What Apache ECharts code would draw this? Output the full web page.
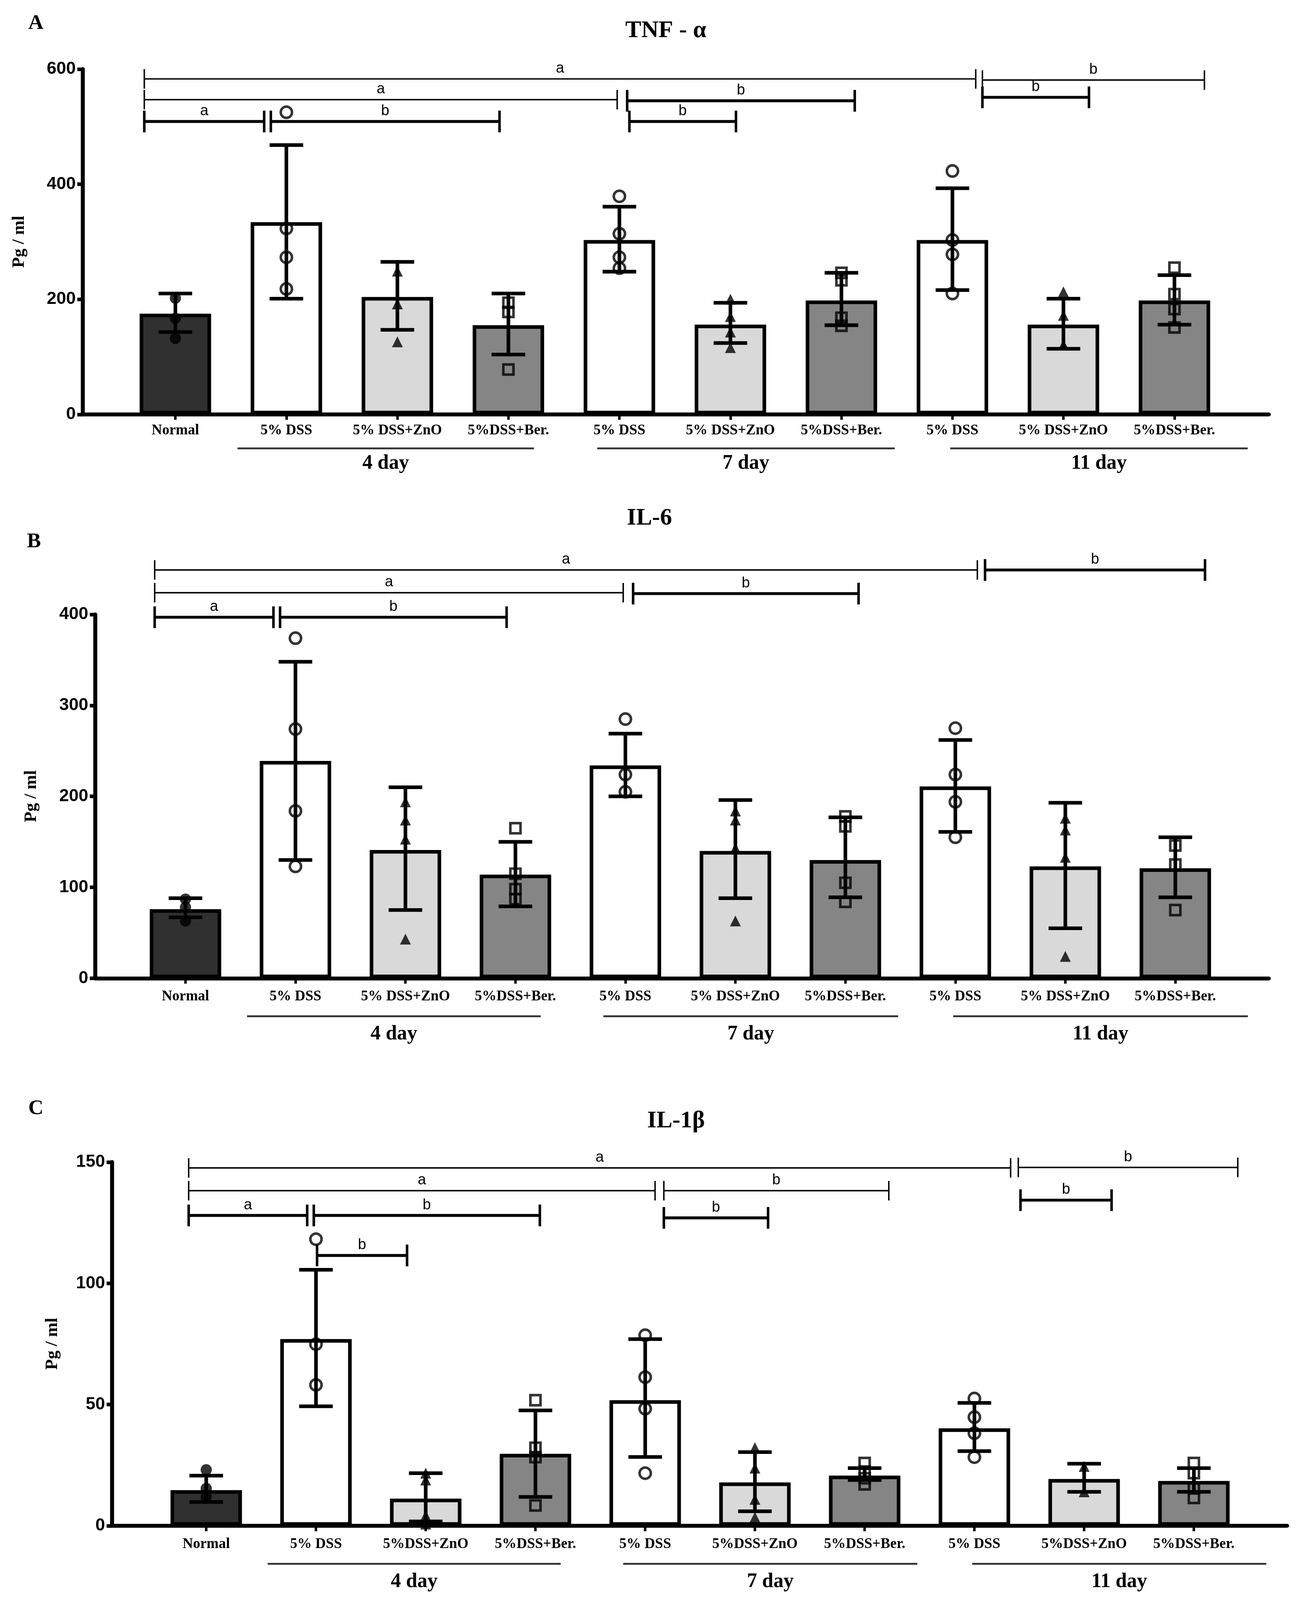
<!DOCTYPE html>
<html>
<head>
<meta charset="utf-8">
<script src="https://cdn.jsdelivr.net/npm/echarts@6/dist/echarts.min.js"></script>
<style>
html,body{margin:0;padding:0;background:#ffffff;overflow:hidden;}
#chart{width:100vw;height:100vh;}
</style>
</head>
<body>
<div id="chart"></div>
<script>
// ---------------- DATA ----------------
const groupKinds = [0, 1, 2, 3, 1, 2, 3, 1, 2, 3];
const categoriesAB = ['Normal', '5% DSS', '5% DSS+ZnO', '5%DSS+Ber.', '5% DSS', '5% DSS+ZnO', '5%DSS+Ber.', '5% DSS', '5% DSS+ZnO', '5%DSS+Ber.'];
const categoriesC = ['Normal', '5% DSS', '5%DSS+ZnO', '5%DSS+Ber.', '5% DSS', '5%DSS+ZnO', '5%DSS+Ber.', '5% DSS', '5%DSS+ZnO', '5%DSS+Ber.'];
const dayGroups = ['4 day', '7 day', '11 day'];
const dayGroupSpans = [[0.56, 3.23], [3.80, 6.48], [6.98, 9.66]];

const panelLetters = ['A', 'B', 'C'];
const panelTitles = ['TNF - α', 'IL-6', 'IL-1β'];
const yAxisName = 'Pg / ml';

// TNF-alpha
const tnfTicks = [0, 200, 400, 600];
const tnfMeans = [175, 334, 204, 155, 303, 156, 198, 303, 156, 198];
const tnfLow   = [143, 201, 147, 104, 248, 124, 155, 216, 114, 156];
const tnfHigh  = [210, 468, 265, 210, 361, 194, 246, 393, 201, 242];
const tnfPoints = [
  [202, 167, 132],
  [525, 323, 273, 218],
  [249, 192, 126],
  [194, 178, 78],
  [379, 314, 273, 254],
  [200, 170, 143, 116],
  [246, 233, 168, 154],
  [423, 303, 278, 210],
  [213, 172, 121],
  [255, 209, 183, 151]
];
// [from, to, level value, letter]
const tnfBrackets = [
  [-0.28, 7.21, 583, 'a'],
  [7.27, 9.27, 581, 'b'],
  [-0.28, 3.98, 547, 'a'],
  [4.07, 6.12, 545, 'b'],
  [7.27, 8.23, 551, 'b'],
  [-0.28, 0.80, 509, 'a'],
  [0.86, 2.92, 509, 'b'],
  [4.09, 5.05, 509, 'b']
];

// IL-6
const il6Ticks = [0, 100, 200, 300, 400];
const il6Means = [76, 239, 141, 114, 234, 140, 130, 211, 123, 121];
const il6Low   = [67, 130, 75, 79, 200, 88, 89, 161, 55, 89];
const il6High  = [88, 348, 210, 150, 269, 196, 177, 262, 193, 155];
const il6Points = [
  [87, 78, 63],
  [374, 274, 184, 123],
  [194, 174, 153, 43],
  [165, 115, 98, 87],
  [285, 224, 205],
  [184, 174, 143, 63],
  [178, 167, 105, 84],
  [275, 224, 194, 155],
  [176, 163, 133, 24],
  [146, 125, 75]
];
const il6Brackets = [
  [-0.28, 7.20, 449, 'a'],
  [7.27, 9.27, 449, 'b'],
  [-0.28, 3.98, 424, 'a'],
  [4.07, 6.12, 423, 'b'],
  [-0.28, 0.80, 397, 'a'],
  [0.86, 2.92, 397, 'b']
];

// IL-1beta
const il1bTicks = [0, 50, 100, 150];
const il1bMeans = [14.7, 77, 11.2, 29.7, 51.8, 17.9, 20.7, 40.2, 19.3, 18.5];
const il1bLow   = [9.8, 49.3, 1.8, 11.9, 28.4, 6.0, 18.9, 30.8, 14.0, 14.0];
const il1bHigh  = [20.7, 105.6, 21.7, 47.6, 77, 30.4, 23.8, 50.7, 25.6, 23.8];
const il1bPoints = [
  [23.1, 15.4, 11.9],
  [118.2, 74.9, 58.1],
  [21.7, 18.9, 4.2, 0.7],
  [51.8, 32.2, 28.3, 8.4],
  [78.6, 61.3, 48.3, 21.7],
  [32.2, 23.8, 10.9, 3.5],
  [25.9, 22.4, 19.6, 17.1],
  [52.5, 44.8, 38.2, 28.3],
  [24.5, 14.0],
  [25.9, 21.7, 15.4, 11.5]
];
const il1bBrackets = [
  [-0.16, 7.33, 147.6, 'a'],
  [7.40, 9.40, 147.8, 'b'],
  [-0.16, 4.09, 138.2, 'a'],
  [4.17, 6.22, 138.2, 'b'],
  [7.42, 8.25, 134.3, 'b'],
  [-0.16, 0.92, 128, 'a'],
  [0.98, 3.04, 128, 'b'],
  [4.17, 5.12, 127, 'b'],
  [1.01, 1.83, 111.5, 'b']
];

// ---------------- STYLE / LAYOUT ----------------
// Layout is designed on a 3334 x 4421 canvas and scaled to the actual viewport.
const VW = window.innerWidth || 3334;
const VH = window.innerHeight || 4421;
const sx = VW / 3334, sy = VH / 4421, s = Math.min(sx, sy);
const X = v => v * sx, Y = v => v * sy, S = v => v * s;

const SERIF = "'Liberation Serif', 'Times New Roman', serif";
const SANS = "'Liberation Sans', Arial, sans-serif";
const barColors = ['#303030', '#ffffff', '#d9d9d9', '#858585'];
const pointSymbols = ['circle', 'circle', 'triangle', 'rect'];
const pointFilled = [true, false, true, false];
const pointSizes = [31, 31, 30, 28];

const panels = [
  { data: { ticks: tnfTicks, means: tnfMeans, low: tnfLow, high: tnfHigh, points: tnfPoints, brackets: tnfBrackets, cats: categoriesAB },
    thin: [0, 1, 2],
    grid: { left: 212, top: 191, width: 3037, height: 954 }, xMin: -0.834, xMax: 9.85,
    labelMargin: 25, groupLineOff: 94, groupLabelOff: 136,
    letterPos: [92, 65], titlePos: [1705, 86], yNamePos: [50, 668] },
  { data: { ticks: il6Ticks, means: il6Means, low: il6Low, high: il6High, points: il6Points, brackets: il6Brackets, cats: categoriesAB },
    thin: [0, 2],
    grid: { left: 244, top: 1698, width: 3005, height: 1005 }, xMin: -0.82, xMax: 9.85,
    labelMargin: 31, groupLineOff: 105, groupLabelOff: 155,
    letterPos: [87, 1497], titlePos: [1663, 1432], yNamePos: [81, 2200] },
  { data: { ticks: il1bTicks, means: il1bMeans, low: il1bLow, high: il1bHigh, points: il1bPoints, brackets: il1bBrackets, cats: categoriesC },
    thin: [0, 1, 2, 3],
    grid: { left: 287, top: 3211, width: 3009, height: 1005 }, xMin: -0.858, xMax: 9.85,
    labelMargin: 31, groupLineOff: 105, groupLabelOff: 155,
    letterPos: [92, 3063], titlePos: [1731, 3098], yNamePos: [135, 3713] }
];

const catIndex = groupKinds.map((k, i) => i);

const grids = [], xAxes = [], yAxes = [], series = [], graphics = [];

panels.forEach((p, pi) => {
  const d = p.data;
  const yMax = d.ticks[d.ticks.length - 1];
  const yInterval = d.ticks[1] - d.ticks[0];
  grids.push({ containLabel: false, left: X(p.grid.left), top: Y(p.grid.top), width: X(p.grid.width), height: Y(p.grid.height) });

  xAxes.push({
    gridIndex: pi, type: 'value', min: p.xMin, max: p.xMax,
    axisLine: { show: true, onZero: false, lineStyle: { color: '#000', width: S(11) } },
    axisTick: { show: true, customValues: catIndex, length: Y(15), inside: false, lineStyle: { color: '#000', width: S(7) } },
    axisLabel: { show: true, customValues: catIndex, margin: Y(p.labelMargin),
      formatter: v => d.cats[Math.round(v)] || '',
      color: '#000', fontFamily: SERIF, fontWeight: 'bold', fontSize: S(40) },
    splitLine: { show: false }
  });
  yAxes.push({
    gridIndex: pi, type: 'value', min: 0, max: yMax, interval: yInterval,
    axisLine: { show: true, onZero: false, lineStyle: { color: '#000', width: S(11) } },
    axisTick: { show: true, length: X(14), inside: false, lineStyle: { color: '#000', width: S(10) } },
    axisLabel: { show: true, margin: X(18), color: '#000', fontFamily: SANS, fontWeight: 'bold', fontSize: S(48) },
    splitLine: { show: false }
  });

  // bars (group means)
  series.push({
    type: 'bar', xAxisIndex: pi, yAxisIndex: pi, barWidth: X(183), z: 2,
    data: d.means.map((m, i) => ({ value: [i, m], itemStyle: { color: barColors[groupKinds[i]], borderColor: '#000', borderWidth: S(10) } })),
    animation: false
  });

  // error bars
  series.push({
    type: 'custom', xAxisIndex: pi, yAxisIndex: pi, z: 3, animation: false,
    data: d.means.map((m, i) => [i, d.low[i], d.high[i]]),
    encode: { x: 0, y: [1, 2] },
    renderItem: function (params, api) {
      const i = api.value(0);
      const top = api.coord([i, api.value(2)]);
      const bot = api.coord([i, api.value(1)]);
      const hw = X(43);
      const st = { stroke: '#000', lineWidth: S(10) };
      return { type: 'group', children: [
        { type: 'line', shape: { x1: top[0], y1: top[1], x2: bot[0], y2: bot[1] }, style: st },
        { type: 'line', shape: { x1: top[0] - hw, y1: top[1], x2: top[0] + hw, y2: top[1] }, style: st },
        { type: 'line', shape: { x1: bot[0] - hw, y1: bot[1], x2: bot[0] + hw, y2: bot[1] }, style: st }
      ] };
    }
  });

  // individual measurements
  const pts = [];
  d.points.forEach((arr, i) => {
    const k = groupKinds[i];
    arr.forEach(v => {
      pts.push({
        value: [i, v], symbol: pointSymbols[k], symbolSize: S(pointSizes[k]),
        itemStyle: pointFilled[k]
          ? { color: '#000', borderColor: '#000', borderWidth: 0 }
          : { color: 'rgba(255,255,255,0)', borderColor: '#000', borderWidth: S(7) }
      });
    });
  });
  series.push({ type: 'scatter', xAxisIndex: pi, yAxisIndex: pi, z: 4, data: pts, animation: false });

  // significance brackets
  series.push({
    type: 'custom', xAxisIndex: pi, yAxisIndex: pi, z: 5, clip: false, animation: false,
    data: d.brackets.map(b => [b[0], b[2]]),
    renderItem: function (params, api) {
      const b = d.brackets[params.dataIndex];
      const p1 = api.coord([b[0], b[2]]);
      const p2 = api.coord([b[1], b[2]]);
      const thin = p.thin.indexOf(params.dataIndex) >= 0;
      const lw = S(thin ? 4 : 8), tw = S(thin ? 4 : 7), th = Y(thin ? 27 : 30);
      return { type: 'group', children: [
        { type: 'line', shape: { x1: p1[0], y1: p1[1], x2: p2[0], y2: p2[1] }, style: { stroke: '#000', lineWidth: lw } },
        { type: 'line', shape: { x1: p1[0], y1: p1[1] - th, x2: p1[0], y2: p1[1] + th }, style: { stroke: '#000', lineWidth: tw } },
        { type: 'line', shape: { x1: p2[0], y1: p2[1] - th, x2: p2[0], y2: p2[1] + th }, style: { stroke: '#000', lineWidth: tw } },
        { type: 'text', x: (p1[0] + p2[0]) / 2, y: p1[1] - Y(8),
          style: { text: b[3], fill: '#000', font: S(41) + 'px ' + SANS, textAlign: 'center', textVerticalAlign: 'bottom', align: 'center', verticalAlign: 'bottom' } }
      ] };
    }
  });

  // day group underlines and labels
  series.push({
    type: 'custom', xAxisIndex: pi, yAxisIndex: pi, z: 5, clip: false, animation: false,
    data: dayGroupSpans.map(sp => [sp[0], 0]),
    renderItem: function (params, api) {
      const sp = dayGroupSpans[params.dataIndex];
      const a = api.coord([sp[0], 0]);
      const b = api.coord([sp[1], 0]);
      const yl = a[1] + Y(p.groupLineOff);
      return { type: 'group', children: [
        { type: 'line', shape: { x1: a[0], y1: yl, x2: b[0], y2: yl }, style: { stroke: '#333', lineWidth: S(5) } },
        { type: 'text', x: (a[0] + b[0]) / 2, y: a[1] + Y(p.groupLabelOff),
          style: { text: dayGroups[params.dataIndex], fill: '#000', font: 'bold ' + S(56) + 'px ' + SERIF, textAlign: 'center', textVerticalAlign: 'middle', align: 'center', verticalAlign: 'middle' } }
      ] };
    }
  });

  graphics.push({ type: 'text', x: X(p.letterPos[0]), y: Y(p.letterPos[1]),
    style: { text: panelLetters[pi], fill: '#000', font: 'bold ' + S(58) + 'px ' + SERIF, textAlign: 'center', textVerticalAlign: 'middle', align: 'center', verticalAlign: 'middle' } });
  graphics.push({ type: 'text', x: X(p.titlePos[0]), y: Y(p.titlePos[1]),
    style: { text: panelTitles[pi], fill: '#000', font: 'bold ' + S(66) + 'px ' + SERIF, textAlign: 'center', textVerticalAlign: 'middle', align: 'center', verticalAlign: 'middle' } });
  graphics.push({ type: 'text', x: X(p.yNamePos[0]), y: Y(p.yNamePos[1]), rotation: Math.PI / 2,
    style: { text: yAxisName, fill: '#000', font: 'bold ' + S(48) + 'px ' + SERIF, textAlign: 'center', textVerticalAlign: 'middle', align: 'center', verticalAlign: 'middle' } });
});

const chart = echarts.init(document.getElementById('chart'), null, { renderer: 'canvas' });
chart.setOption({
  backgroundColor: '#ffffff',
  animation: false,
  grid: grids,
  xAxis: xAxes,
  yAxis: yAxes,
  series: series,
  graphic: graphics
});
</script>
</body>
</html>
